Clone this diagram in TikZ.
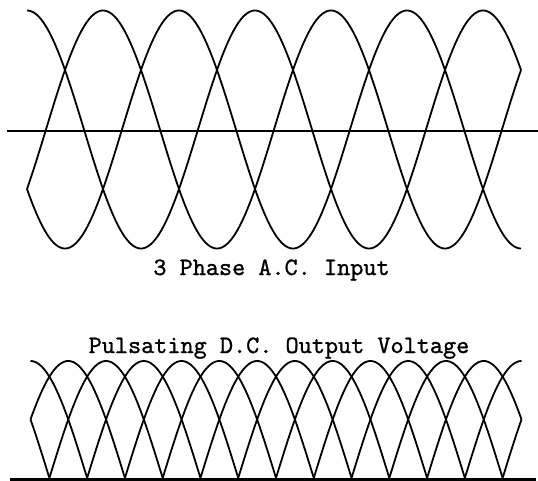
\documentclass[tikz,border=0pt]{standalone}
\usepackage{fontspec}
\newfontfamily\capfont{lmmono10-regular.otf}[FakeBold=1]
\begin{document}
\begin{tikzpicture}[x=1pt,y=-1pt,
  wave/.style={line width=1.8pt,line join=round,black},
  axisline/.style={line width=2.2pt,black},
  baseline/.style={line width=3pt,black},
  caption/.style={font=\capfont\fontsize{25}{30}\selectfont,anchor=base,inner sep=0pt}]
\useasboundingbox (0,0) rectangle (538,481);
% top: three-phase AC input
\coordinate (axL) at (7,131);
\coordinate (axR) at (538,131);
\draw[axisline] (axL) -- (axR);
\foreach \ph in {0,-120,120}{
  \draw[wave] plot[domain=90:870,samples=391,smooth] ({27+(\x-90)*0.63333},{129.5-119*sin(\x+\ph)});
}
\node[caption] (in) at (271.5,275) {3 Phase A.C. Input};
% bottom: pulsating DC output
\node[caption] (out) at (279,353) {Pulsating D.C. Output Voltage};
\foreach \ph in {0,-120,120}{
  \draw[wave] plot[domain=90:870,samples=391] ({30.5+(\x-90)*0.6295},{478-117*abs(sin(\x+\ph))});
}
\coordinate (bL) at (10,479);
\coordinate (bR) at (536,479);
\draw[baseline] (bL) -- (bR);
\end{tikzpicture}
\end{document}
